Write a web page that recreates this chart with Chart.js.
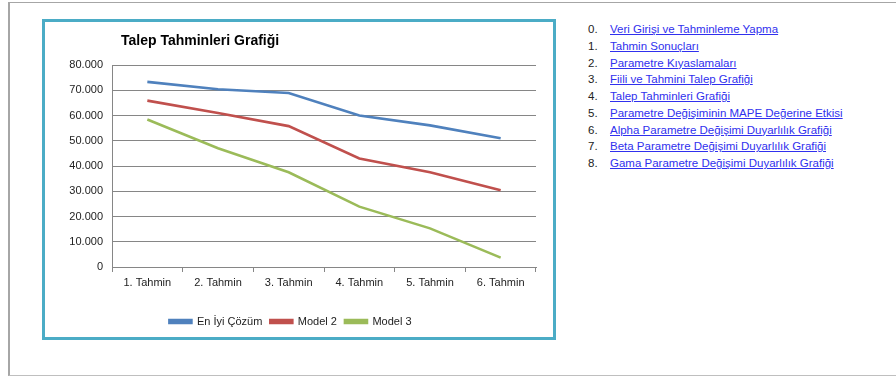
<!DOCTYPE html>
<html>
<head>
<meta charset="utf-8">
<script src="https://cdn.jsdelivr.net/npm/chart.js@4"></script>
<style>
  body { margin: 0; background: #fff; width: 896px; height: 376px; overflow: hidden; font-family: "Liberation Sans", Arial, sans-serif; }
  #sheet { position: absolute; left: 8px; top: 2px; width: 900px; height: 372px; border-left: 2px solid #a6a6a6; border-top: 1px solid #a6a6a6; border-bottom: 1px solid #bfbfbf; }
  #box { position: absolute; left: 42px; top: 19px; width: 508px; height: 315px; border: 3px solid #4bacc6; background: #fff; }
  #title { position: absolute; left: 76px; top: 10px; font-size: 14px; font-weight: bold; color: #000; }
  #wrap { position: absolute; left: 0; top: 0; width: 508px; height: 315px; }
  #links { position: absolute; left: 588px; top: 21px; font-size: 11.5px; }
  #links div { height: 16.75px; line-height: 16.75px; white-space: nowrap; }
  #links span { display: inline-block; width: 22px; color: #222; }
  #links a { color: #3030ee; text-decoration: underline; }
</style>
</head>
<body>
<div id="sheet"></div>
<div id="box">
  <div id="wrap"><canvas id="chart"></canvas></div>
  <div id="title">Talep Tahminleri Grafiği</div>
</div>
<div id="links"></div>
<script>
// chart data
const categories = ["1. Tahmin", "2. Tahmin", "3. Tahmin", "4. Tahmin", "5. Tahmin", "6. Tahmin"];
const enIyiCozum = [73300, 70400, 68900, 60000, 56100, 51000];
const model2 = [65900, 61000, 55800, 43000, 37500, 30400];
const model3 = [58400, 47000, 37500, 23900, 15300, 3700];
const yTicks = [0, 10000, 20000, 30000, 40000, 50000, 60000, 70000, 80000];

// side menu
const menuItems = [
  "Veri Girişi ve Tahminleme Yapma",
  "Tahmin Sonuçları",
  "Parametre Kıyaslamaları",
  "Fiili ve Tahmini Talep Grafiği",
  "Talep Tahminleri Grafiği",
  "Parametre Değişiminin MAPE Değerine Etkisi",
  "Alpha Parametre Değişimi Duyarlılık Grafiği",
  "Beta Parametre Değişimi Duyarlılık Grafiği",
  "Gama Parametre Değişimi Duyarlılık Grafiği"
];

const links = document.getElementById("links");
menuItems.forEach((txt, i) => {
  const row = document.createElement("div");
  row.innerHTML = `<span>${i}.</span><a href="#">${txt}</a>`;
  links.appendChild(row);
});

const fmt = (v) => v === 0 ? "0" : v.toLocaleString("de-DE", { minimumFractionDigits: 0 }).replace(/,/g, ".");

const line = (label, data, color) => ({
  label,
  data,
  borderColor: color,
  backgroundColor: color,
  borderWidth: 2.6,
  pointRadius: 0,
  tension: 0,
  fill: false,
});

new Chart(document.getElementById("chart"), {
  type: "line",
  data: {
    labels: categories,
    datasets: [
      line("En İyi Çözüm", enIyiCozum, "#4f81bd"),
      line("Model 2", model2, "#c0504d"),
      line("Model 3", model3, "#9bbb59"),
    ],
  },
  options: {
    responsive: true,
    maintainAspectRatio: false,
    animation: false,
    layout: { padding: { top: 43, right: 17, left: 0, bottom: 0 } },
    plugins: {
      title: { display: false },
      tooltip: { enabled: false },
      legend: {
        position: "bottom",
        labels: {
          boxWidth: 22,
          boxHeight: 3,
          padding: 8,
          color: "#222",
          font: { family: "Liberation Sans", size: 11 },
        },
      },
    },
    scales: {
      x: {
        offset: true,
        grid: {
          offset: true,
          drawOnChartArea: false,
          drawTicks: true,
          tickLength: 5,
          color: "#868686",
        },
        border: { color: "#868686" },
        ticks: {
          color: "#222",
          padding: 4,
          maxRotation: 0,
          font: { family: "Liberation Sans", size: 11 },
        },
        afterFit: (scale) => { scale.height = 41; },
      },
      y: {
        min: 0,
        max: 80000,
        afterBuildTicks: (scale) => { scale.ticks = yTicks.map((v) => ({ value: v })); },
        grid: { color: "#868686", drawTicks: false },
        border: { color: "#868686" },
        ticks: {
          color: "#222",
          padding: 9,
          callback: (v) => fmt(v),
          font: { family: "Liberation Sans", size: 11 },
        },
        afterFit: (scale) => { scale.width = 67; },
      },
    },
  },
});
</script>
</body>
</html>
